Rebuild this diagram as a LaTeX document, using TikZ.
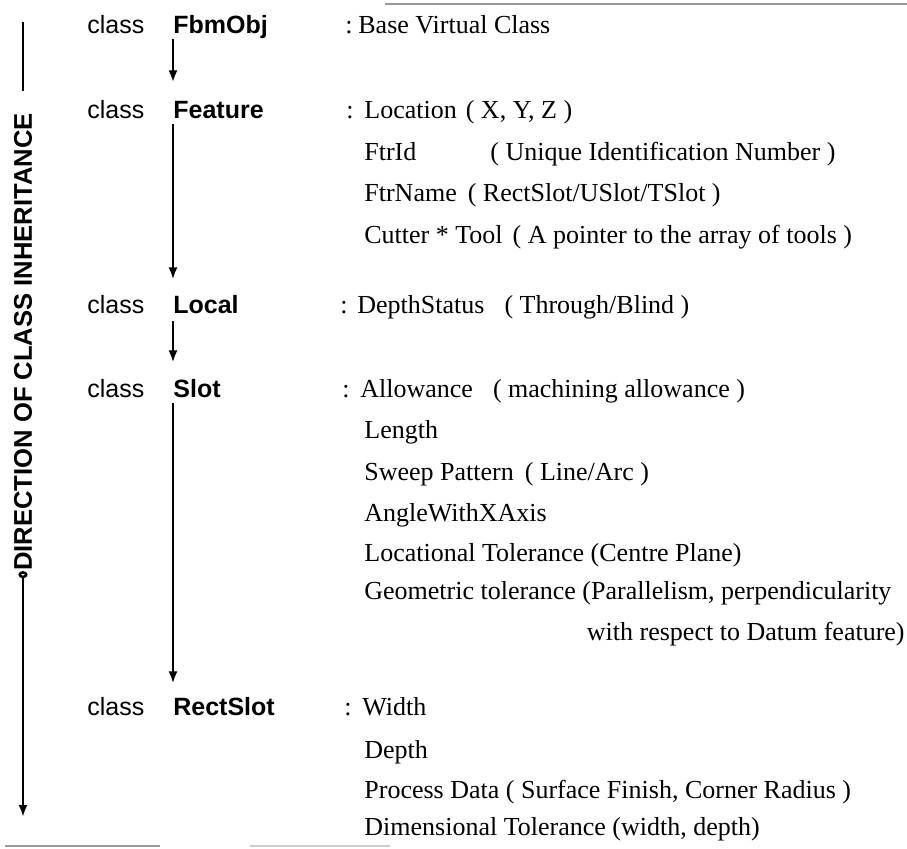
\documentclass[tikz,border=0pt]{standalone}
\usepackage{fontspec}
\setmainfont{Liberation Serif}
\setsansfont{Liberation Sans}
\usetikzlibrary{arrows.meta}
\tikzset{
  kwd/.style={anchor=base west, inner sep=0pt, font=\sffamily\fontsize{12.5}{14}\selectfont},
  cls/.style={anchor=base west, inner sep=0pt, text depth=0pt,
    font=\sffamily\bfseries\fontsize{12.5}{14}\selectfont},
  colon/.style={anchor=base west, inner sep=0pt, font=\fontsize{13}{15}\selectfont},
  attr/.style={anchor=base west, inner sep=0pt, font=\fontsize{13}{15}\selectfont},
  inherit/.style={-{Latex[length=6pt,width=4.5pt]}, line width=1.25pt},
  regla/.style={draw=black!40, line width=0.8pt}
}

\begin{document}
\begin{tikzpicture}[x=0.5pt, y=-0.5pt]
  \useasboundingbox (0,0) rectangle (907,848);

  % Bordes del escaneo
  \draw[regla] (385,4) -- (907,4);
  \draw[regla, line width=1.2pt] (5,846) -- (160,846);
  \draw[regla, draw=black!20] (250,846) -- (390,846);

  % Direccion de la herencia
  \node[font=\sffamily\bfseries\fontsize{12.8}{14}\selectfont, rotate=90, inner sep=0pt]
        (dir) at (23,342) {DIRECTION OF CLASS INHERITANCE};
  \coordinate (dirtop) at (23,22);
  \coordinate (dirbot) at (23,817);
  \draw[line width=1.25pt] (dirtop) -- ([yshift=11pt]dir.east);
  \draw[inherit, {Circle[open,length=3.5pt,width=4.5pt]}-{Latex[length=6pt,width=4.5pt]}]
        (dir.west) -- (dirbot);

  % Clases
  \node[kwd] (kfbm)  at (87,33)  {class};
  \node[cls] (fbm)   at (173,33) {FbmObj};
  \node[kwd] (kfeat) at (87,118) {class};
  \node[cls] (feat)  at (173,118) {Feature};
  \node[kwd] (kloc)  at (87,313) {class};
  \node[cls] (local) at (173,313) {Local};
  \node[kwd] (kslot) at (87,397) {class};
  \node[cls] (slot)  at (173,397) {Slot};
  \node[kwd] (krect) at (87,715) {class};
  \node[cls] (rect)  at (173,715) {RectSlot};

  \draw[inherit] ([yshift=-3pt]fbm.south west)   -- ([yshift=9pt]feat.north west);
  \draw[inherit] ([yshift=-3pt]feat.south west)  -- ([yshift=7.5pt]local.north west);
  \draw[inherit] ([yshift=-4pt]local.south west) -- ([yshift=8pt]slot.north west);
  \draw[inherit] ([yshift=-3pt]slot.south west)  -- ([yshift=6.5pt]rect.north west);

  % Atributos
  \node[colon] (cfbm) at (345,33) {:};
  \node[attr] (base) at (358,33) {Base Virtual Class};

  \node[colon] (cfeat) at (346,118) {:};
  \node[attr] (loc)   at (364,118) {Location\hspace{4.5pt}( X, Y, Z )};
  \node[attr] (ftrid) at (364,160) {FtrId\hspace{37pt}( Unique Identification Number )};
  \node[attr] (ftrnm) at (364,201) {FtrName\hspace{5.5pt}( RectSlot/USlot/TSlot )};
  \node[attr] (tool)  at (364,243) {Cutter * Tool\hspace{5pt}( A pointer to the array of tools )};

  \node[colon] (cloc) at (340,313) {:};
  \node[attr] (depst) at (357,313) {DepthStatus\hspace{10pt}( Through/Blind )};

  \node[colon] (cslot) at (342,397) {:};
  \node[attr] (allow) at (360,397) {Allowance\hspace{10pt}( machining allowance )};
  \node[attr] (len)   at (364,438) {Length};
  \node[attr] (sweep) at (364,480) {Sweep Pattern\hspace{5.5pt}( Line/Arc )};
  \node[attr] (angle) at (364,521) {AngleWithXAxis};
  \node[attr] (ltol)  at (364,561) {Locational Tolerance (Centre Plane)};
  \node[attr] (gtol)  at (364,599) {Geometric tolerance (Parallelism, perpendicularity};
  \node[attr, anchor=base east] (gtol2) at (905,640) {with respect to Datum feature)};

  \node[colon] (crect) at (344,715) {:};
  \node[attr] (width) at (362,715) {Width};
  \node[attr] (depth) at (364,758) {Depth};
  \node[attr] (proc)  at (364,798) {Process Data ( Surface Finish, Corner Radius )};
  \node[attr] (dtol)  at (364,835) {Dimensional Tolerance (width, depth)};
\end{tikzpicture}
\end{document}
